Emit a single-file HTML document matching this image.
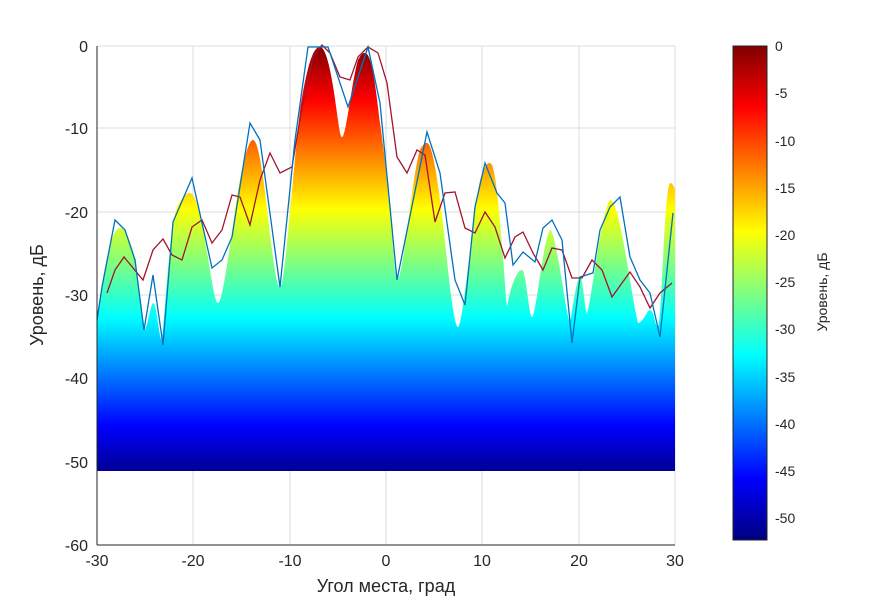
<!DOCTYPE html>
<html><head><meta charset="utf-8"><style>
html,body{margin:0;padding:0;background:#fff;}
svg text{font-family:"Liberation Sans",sans-serif;fill:#262626;}
</style></head><body>
<svg width="877" height="606" viewBox="0 0 877 606" xmlns="http://www.w3.org/2000/svg">
<defs>
<linearGradient id="jet" gradientUnits="userSpaceOnUse" x1="0" y1="46" x2="0" y2="540">
<stop offset="0" stop-color="#800000"/>
<stop offset="0.125" stop-color="#ff0000"/>
<stop offset="0.375" stop-color="#ffff00"/>
<stop offset="0.625" stop-color="#00ffff"/>
<stop offset="0.875" stop-color="#0000ff"/>
<stop offset="1" stop-color="#000080"/>
</linearGradient>
<linearGradient id="jet2" gradientUnits="userSpaceOnUse" x1="0" y1="46" x2="0" y2="480">
<stop offset="0" stop-color="#800000"/>
<stop offset="0.125" stop-color="#ff0000"/>
<stop offset="0.375" stop-color="#ffff00"/>
<stop offset="0.625" stop-color="#00ffff"/>
<stop offset="0.875" stop-color="#0000ff"/>
<stop offset="1" stop-color="#000080"/>
</linearGradient>
</defs>
<!-- grid -->
<g stroke="#dcdcdc" stroke-width="1">
<line x1="193" y1="46" x2="193" y2="545"/><line x1="290" y1="46" x2="290" y2="545"/>
<line x1="386" y1="46" x2="386" y2="545"/><line x1="482" y1="46" x2="482" y2="545"/>
<line x1="579" y1="46" x2="579" y2="545"/><line x1="675" y1="46" x2="675" y2="545"/>
<line x1="97" y1="46" x2="675" y2="46"/><line x1="97" y1="128" x2="675" y2="128"/>
<line x1="97" y1="212" x2="675" y2="212"/><line x1="97" y1="295" x2="675" y2="295"/>
<line x1="97" y1="378" x2="675" y2="378"/><line x1="97" y1="462" x2="675" y2="462"/>
</g>
<!-- fill -->
<path fill="url(#jet2)" d="M97,471 L97,317 C105,260 112,228 120,228 C128,228 132,250 136,260 C140,300 143,330 145,330 C149,320 151,303 153,303 C157,303 159,340 162,340 C166,300 170,220 178,205 C184,195 187,193 190,193 C198,193 205,240 210,270 C214,295 216,303 218,303 C222,303 228,260 235,210 C242,165 248,140 253,140 C260,140 266,200 272,250 C276,280 278,287 280,287 C285,287 292,180 300,110 C308,60 314,47 320,47 C328,47 334,90 338,120 C340,135 341,137 342,137 C346,137 352,80 358,60 C362,53 363,53 365,53 C372,53 376,90 380,123 C384,150 386,173 387,173 C392,230 395,280 397,280 C403,280 412,175 420,150 C424,143 425,143 427,143 C434,143 442,210 448,270 C453,315 456,327 458,327 C463,327 472,220 480,180 C485,165 487,163 490,163 C496,163 500,220 504,270 C506,300 507,307 507,307 C512,280 518,270 522,270 C526,270 529,317 532,317 C536,317 543,240 550,230 C556,230 565,310 570,323 C574,300 577,277 580,277 C583,277 585,313 587,313 C592,300 600,215 610,200 C620,200 630,290 638,323 C643,323 647,310 650,310 C654,310 655,327 658,327 C662,320 664,190 670,183 C672,183 674,186 675,190 L675,471 Z"/>
<!-- red line -->
<polyline fill="none" stroke="#a2142f" stroke-width="1.3" points="107,293 115,270 124,257 143,280 153,250 163,239 172,255 182,260 192,227 202,220 212,243 222,230 232,195 240,197 250,225 260,180 270,153 280,173 292,167 302,107 313,57 322,45 330,53 340,77 350,80 358,57 368,47 378,53 387,83 397,157 407,173 417,150 425,155 435,222 445,193 455,192 465,228 475,233 485,212 495,227 505,258 515,237 523,232 533,253 543,270 552,248 562,250 572,278 582,278 592,260 602,270 612,297 622,283 630,272 640,287 650,308 660,293 672,283"/>
<!-- blue line -->
<polyline fill="none" stroke="#0072bd" stroke-width="1.3" points="97,320 102,287 115,220 125,230 135,260 144,330 153,275 163,345 173,222 192,178 212,268 222,260 232,237 250,123 260,140 280,287 295,140 308,47 328,47 348,107 368,47 380,103 397,280 427,132 440,173 455,280 465,305 475,207 485,163 497,193 505,203 513,265 523,252 535,262 543,228 552,220 562,240 572,343 580,277 593,273 600,230 610,207 620,197 630,257 640,280 650,293 660,337 673,213"/>
<!-- axes -->
<g stroke="#262626" stroke-width="1">
<line x1="97" y1="46" x2="97" y2="545"/><line x1="97" y1="545" x2="675" y2="545"/>
</g>
<g font-size="16" text-anchor="end">
<text x="88" y="52">0</text><text x="88" y="134">-10</text><text x="88" y="218">-20</text>
<text x="88" y="301">-30</text><text x="88" y="384">-40</text><text x="88" y="468">-50</text><text x="88" y="551">-60</text>
</g>
<g font-size="16" text-anchor="middle">
<text x="97" y="566">-30</text><text x="193" y="566">-20</text><text x="290" y="566">-10</text>
<text x="386" y="566">0</text><text x="482" y="566">10</text><text x="579" y="566">20</text><text x="675" y="566">30</text>
</g>
<text x="386" y="592" font-size="18" text-anchor="middle">Угол места, град</text>
<text transform="translate(43,295) rotate(-90)" font-size="18" text-anchor="middle">Уровень, дБ</text>
<!-- colorbar -->
<rect x="733" y="46" width="34" height="494" fill="url(#jet)" stroke="#262626" stroke-width="1"/>
<g font-size="14">
<text x="775" y="51">0</text><text x="775" y="98">-5</text><text x="775" y="146">-10</text>
<text x="775" y="193">-15</text><text x="775" y="240">-20</text><text x="775" y="287">-25</text>
<text x="775" y="334">-30</text><text x="775" y="382">-35</text><text x="775" y="429">-40</text>
<text x="775" y="476">-45</text><text x="775" y="523">-50</text>
</g>
<text transform="translate(827,292) rotate(-90)" font-size="14" text-anchor="middle">Уровень, дБ</text>
</svg>
</body></html>
